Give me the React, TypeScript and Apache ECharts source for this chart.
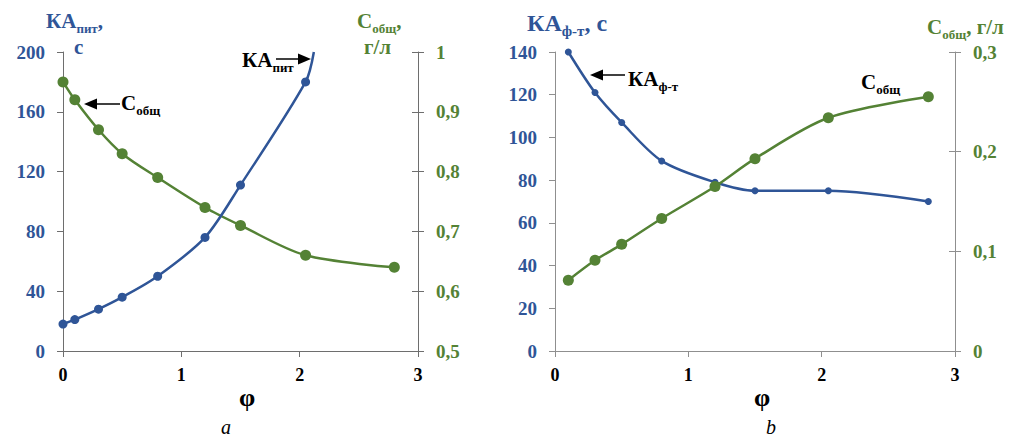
import React, { useEffect, useRef } from "react";
import * as echarts from "echarts";

// ---- data ----
const phiA = [0, 0.1, 0.3, 0.5, 0.8, 1.2, 1.5, 2.05, 2.12];
const kaPit = [18, 21, 28, 36, 50, 76, 111, 180, 200];
const phiAC = [0, 0.1, 0.3, 0.5, 0.8, 1.2, 1.5, 2.05, 2.8];
const cObshA = [0.95, 0.92, 0.87, 0.83, 0.79, 0.74, 0.71, 0.66, 0.64];
const phiB = [0.1, 0.3, 0.5, 0.8, 1.2, 1.5, 2.05, 2.8];
const kaFT = [140, 121, 107, 89, 79, 75, 75, 70];
const cObshB = [0.071, 0.091, 0.107, 0.133, 0.165, 0.193, 0.234, 0.255];
const xRange = [0, 3];
const yLeftA = [0, 200, 40];
const yRightA = [0.5, 1, 0.1];
const yLeftB = [0, 140, 20];
const yRightB = [0, 0.3, 0.1];

const FF = "Times New Roman, Liberation Serif, DejaVu Serif, serif";
const BLUE = "#2F5597";
const GREEN = "#548235";

function measure(t: string, font: string) {
  const c = document.createElement("canvas").getContext("2d")!;
  c.font = font;
  return c.measureText(t).width;
}

// parts: [text, isSub]
function label(x: number, yMid: number, parts: [string, boolean][], color: string, M = 21, S = 13, subOff = 7) {
  const out: any[] = [];
  let cx = x;
  for (const [t, sub] of parts) {
    const size = sub ? S : M;
    out.push({
      type: "text",
      x: cx,
      y: sub ? yMid + subOff : yMid,
      style: { text: t, fontFamily: FF, fontWeight: "bold", fontSize: size, fill: color, align: "left", verticalAlign: "middle" },
    });
    cx += measure(t, `bold ${size}px ${FF}`);
  }
  return out;
}

function arrow(x1: number, x2: number, y: number, tipAtX1: boolean) {
  const tip = tipAtX1 ? x1 : x2;
  const dir = tipAtX1 ? 1 : -1;
  const base = tip + dir * 13;
  return [
    { type: "line", shape: { x1: tipAtX1 ? base : x1, y1: y, x2: tipAtX1 ? x2 : base, y2: y }, style: { stroke: "#000", lineWidth: 1.5 } },
    { type: "polygon", shape: { points: [[tip, y], [base, y - 5.5], [base, y + 5.5]] }, style: { fill: "#000" } },
  ];
}

const fmt = (v: number) => String(Math.round(v * 10) / 10).replace(".", ",");

function xAxis(grid: number, color: string) {
  return {
    type: "value", gridIndex: grid, min: xRange[0], max: xRange[1], interval: 1,
    axisLine: { show: true, onZero: false, lineStyle: { color, width: 1 } },
    axisTick: { show: true, length: 6, lineStyle: { color } },
    axisLabel: { color: "#000", fontFamily: FF, fontWeight: "bold", fontSize: 18, margin: 15 },
    splitLine: { show: false },
  };
}
function yAxis(grid: number, r: number[], pos: string, color: string, labelColor: string, inside: boolean, showLabel: boolean, showLine: boolean, formatter?: any) {
  return {
    type: "value", gridIndex: grid, position: pos, min: r[0], max: r[1], interval: r[2],
    axisLine: { show: showLine, onZero: false, lineStyle: { color, width: 1 } },
    axisTick: { show: true, inside, length: 6, lineStyle: { color } },
    axisLabel: { show: showLabel, color: labelColor, fontFamily: FF, fontWeight: "bold", fontSize: 19, margin: 18, formatter },
    splitLine: { show: false },
  };
}

function txt(x: number, y: number, text: string, size: number, weight: string, style: string) {
  return { type: "text", x, y, style: { text, fontFamily: FF, fontSize: size, fontWeight: weight, fontStyle: style, fill: "#000", align: "center", verticalAlign: "middle" } };
}

export default function App() {
  const ref = useRef<HTMLDivElement>(null);
  useEffect(() => {
    const chart = echarts.init(ref.current!, undefined, { renderer: "svg" });
    const cA = "#6e6e6e";
    const cB = "#8f8f8f";
    const graphic: any[] = [
      // left chart titles
      ...label(46, 21, [["КА", false], ["пит", true], [",", false]], BLUE),
      ...label(74, 47, [["с", false]], BLUE),
      ...label(357, 21, [["С", false], ["общ", true], [",", false]], GREEN),
      ...label(364, 47, [["г/л", false]], GREEN),
      // left annotations
      ...label(242, 60, [["КА", false], ["пит", true]], "#000"),
      ...arrow(276, 311, 59, false),
      ...arrow(84, 120, 104, true),
      ...label(121, 103, [["С", false], ["общ", true]], "#000"),
      // right chart titles
      ...label(527, 23, [["КА", false], ["ф-т", true], [", с", false]], BLUE, 24, 15, 8),
      ...label(927, 27, [["С", false], ["общ", true], [", г/л", false]], GREEN),
      // right annotations
      ...arrow(590, 625, 75, true),
      ...label(628, 79, [["КА", false], ["ф-т", true]], "#000"),
      ...label(861, 82, [["С", false], ["общ", true]], "#000"),
      // x names & panel letters
      txt(247, 397, "φ", 26, "bold", "normal"),
      txt(762, 397, "φ", 26, "bold", "normal"),
      txt(226, 427, "a", 20, "normal", "italic"),
      txt(771, 427, "b", 20, "normal", "italic"),
    ];
    const kaPitData = phiA.map((x, i) =>
      i === phiA.length - 1 ? { value: [x, kaPit[i]], symbol: "none" } : [x, kaPit[i]]
    );
    chart.setOption({
      animation: false,
      grid: [
        { left: 63, top: 52, width: 355, height: 299 },
        { left: 555, top: 52, width: 400, height: 299 },
      ],
      xAxis: [xAxis(0, cA), xAxis(1, cB)],
      yAxis: [
        yAxis(0, yLeftA, "left", cA, BLUE, false, true, true),
        yAxis(0, yRightA, "right", cA, GREEN, true, true, true, fmt),
        yAxis(0, yRightA, "right", cA, GREEN, false, false, false),
        yAxis(1, yLeftB, "left", cB, BLUE, false, true, true),
        yAxis(1, yRightB, "right", cB, GREEN, true, true, true, fmt),
        yAxis(1, yRightB, "right", cB, GREEN, false, false, false),
      ],
      series: [
        {
          type: "line", xAxisIndex: 0, yAxisIndex: 1, smooth: 0.3,
          data: phiAC.map((x, i) => [x, cObshA[i]]),
          symbol: "circle", symbolSize: 11,
          lineStyle: { color: GREEN, width: 2.5 }, itemStyle: { color: GREEN },
        },
        {
          type: "line", xAxisIndex: 0, yAxisIndex: 0, smooth: 0.3,
          data: kaPitData,
          symbol: "circle", symbolSize: 9,
          lineStyle: { color: BLUE, width: 2.5 }, itemStyle: { color: BLUE },
        },
        {
          type: "line", xAxisIndex: 1, yAxisIndex: 3, smooth: 0.3,
          data: phiB.map((x, i) => [x, kaFT[i]]),
          symbol: "circle", symbolSize: 7,
          lineStyle: { color: BLUE, width: 2.5 }, itemStyle: { color: BLUE },
        },
        {
          type: "line", xAxisIndex: 1, yAxisIndex: 4, smooth: 0.3,
          data: phiB.map((x, i) => [x, cObshB[i]]),
          symbol: "circle", symbolSize: 11,
          lineStyle: { color: GREEN, width: 2.5 }, itemStyle: { color: GREEN },
        },
      ],
      graphic,
    });
    return () => chart.dispose();
  }, []);
  return (
    <div
      ref={ref}
      style={{ position: "absolute", left: 0, top: 0, width: 1009, height: 438, background: "#fff" }}
    />
  );
}
